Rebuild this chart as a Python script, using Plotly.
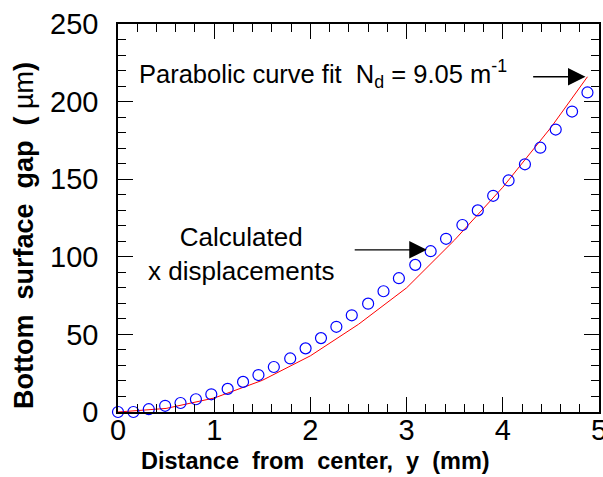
import plotly.graph_objects as go

# Calculated x displacements (circles)
calc_x = [0, 0.16, 0.32, 0.49, 0.65, 0.81, 0.97, 1.14, 1.30, 1.46, 1.62, 1.79, 1.95, 2.11,
          2.27, 2.43, 2.60, 2.76, 2.92, 3.09, 3.25, 3.41, 3.58, 3.74, 3.90, 4.06, 4.23,
          4.39, 4.55, 4.72, 4.88]
calc_y = [0, 0, 1.8, 4.0, 5.8, 8.2, 11.4, 14.9, 19.4, 23.8, 29.0, 34.5, 41.0, 47.6,
          54.9, 62.3, 69.8, 77.8, 86.2, 94.8, 103.6, 111.6, 120.5, 129.9, 139.3, 149.2,
          159.6, 170.3, 182.0, 193.6, 205.9]

# Parabolic curve fit (red line)
fit_x = [0, 0.5, 1.0, 1.5, 2.0, 2.5, 3.0, 3.5, 4.0, 4.5, 4.88]
fit_y = [0, 2.3, 9.0, 20.4, 36.2, 56.5, 80.0, 110.9, 144.8, 183.3, 216.0]

x_ticks = [0, 1, 2, 3, 4, 5]
y_ticks = [0, 50, 100, 150, 200, 250]

FONT = "Liberation Sans, Arial, Helvetica, sans-serif"
NB = "\u00a0"

fig = go.Figure()
fig.add_trace(go.Scatter(x=fit_x, y=fit_y, mode="lines",
                         line=dict(color="red", width=1), showlegend=False))
fig.add_trace(go.Scatter(x=calc_x, y=calc_y, mode="markers",
                         marker=dict(symbol="circle-open", size=11, color="#0000ff",
                                     line=dict(width=1.2, color="#0000ff")),
                         showlegend=False, cliponaxis=False))

axis_common = dict(
    showgrid=False, zeroline=False, showline=True, linecolor="black", linewidth=1.5,
    mirror="ticks", ticks="inside", ticklen=15, tickwidth=1.2, tickcolor="black",
    tickfont=dict(family=FONT, size=29, color="black"), automargin=False,
    ticklabeloverflow="allow",
)
fig.update_xaxes(range=[0, 5], tickvals=x_ticks, ticktext=[str(v) for v in x_ticks],
                 minor=dict(ticks="inside", ticklen=8, dtick=0.2, tickwidth=1.2,
                            tickcolor="black", showgrid=False),
                 ticklabelstandoff=-9,
                 **axis_common)
fig.update_yaxes(range=[0, 250], tickvals=y_ticks, ticktext=[str(v) for v in y_ticks],
                 minor=dict(ticks="inside", ticklen=8, dtick=10, tickwidth=1.2,
                            tickcolor="black", showgrid=False),
                 ticklabelstandoff=12,
                 **axis_common)

ann_font = dict(family=FONT, size=25.5, color="black")
fig.add_annotation(x=0.41, y=-0.127, xref="paper", yref="paper", showarrow=False,
                   text="<b>Distance" + NB * 2 + "from" + NB * 2 + "center," + NB * 2 +
                        "y" + NB * 2 + "(mm)</b>",
                   font=dict(family=FONT, size=23.5, color="black"),
                   xanchor="center", yanchor="middle")
fig.add_annotation(x=-0.195, y=0.454, xref="paper", yref="paper", showarrow=False,
                   textangle=-90,
                   text="<b>Bottom" + NB * 2 + "surface" + NB * 2 + "gap" + NB * 2 +
                        "(" + NB + "</b>\u00b5m<b>)</b>",
                   font=dict(family=FONT, size=27, color="black"),
                   xanchor="center", yanchor="middle")
fig.add_annotation(x=0.195, y=218, xref="x", yref="y", showarrow=False,
                   text="Parabolic curve fit" + NB * 2 + "N<sub>d</sub> = 9.05 m<sup>-1</sup>",
                   font=ann_font, xanchor="left", yanchor="middle")
fig.add_annotation(x=1.277, y=101.9, xref="x", yref="y", showarrow=False,
                   text="Calculated<br>x displacements", align="center",
                   font=dict(family=FONT, size=26, color="black"),
                   xanchor="center", yanchor="middle")
# arrows
fig.add_annotation(x=4.86, y=216, ax=4.30, ay=216, xref="x", yref="y", axref="x", ayref="y",
                   text="", showarrow=True, arrowhead=2, arrowsize=2.7, arrowwidth=1.3,
                   arrowcolor="black", standoff=0)
fig.add_annotation(x=3.21, y=104.5, ax=2.445, ay=104.5, xref="x", yref="y", axref="x",
                   ayref="y", text="", showarrow=True, arrowhead=2, arrowsize=2.7,
                   arrowwidth=1.3, arrowcolor="black", standoff=0)

fig.update_layout(
    width=603, height=477,
    margin=dict(l=118, r=4, t=24, b=65, autoexpand=False),
    paper_bgcolor="white", plot_bgcolor="white",
    font=dict(family=FONT, color="black"),
)
fig.write_html("out.html", config={"displayModeBar": False},
               post_script="document.body.style.margin='0';document.body.style.overflow='hidden';")
